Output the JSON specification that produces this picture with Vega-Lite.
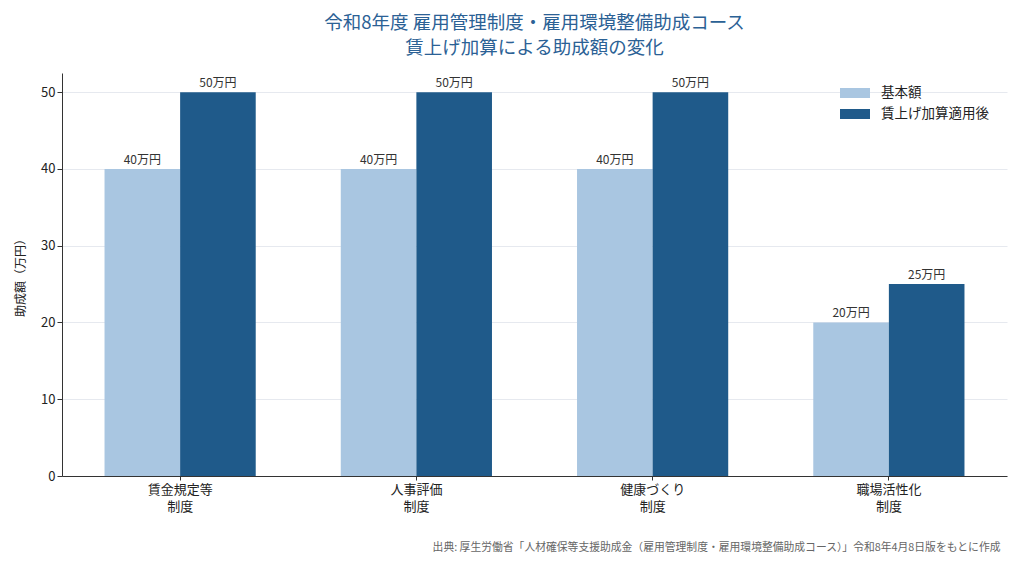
{
  "$schema": "https://vega.github.io/schema/vega-lite/v6.json",
  "autosize": {"type": "none"},
  "padding": {"left": 62, "top": 73, "right": 17, "bottom": 97},
  "width": 945,
  "height": 403,
  "background": "white",
  "config": {
    "font": "Noto Sans CJK JP",
    "view": {"stroke": null}
  },
  "title": {
    "text": ["令和8年度 雇用管理制度・雇用環境整備助成コース", "賃上げ加算による助成額の変化"],
    "fontSize": 18.5,
    "fontWeight": "normal",
    "color": "#2b6195",
    "lineHeight": 25,
    "anchor": "middle",
    "offset": 16
  },
  "data": {
    "values": [
      {"category": "賃金規定等\n制度", "type": "基本額", "value": 40, "label": "40万円"},
      {"category": "賃金規定等\n制度", "type": "賃上げ加算適用後", "value": 50, "label": "50万円"},
      {"category": "人事評価\n制度", "type": "基本額", "value": 40, "label": "40万円"},
      {"category": "人事評価\n制度", "type": "賃上げ加算適用後", "value": 50, "label": "50万円"},
      {"category": "健康づくり\n制度", "type": "基本額", "value": 40, "label": "40万円"},
      {"category": "健康づくり\n制度", "type": "賃上げ加算適用後", "value": 50, "label": "50万円"},
      {"category": "職場活性化\n制度", "type": "基本額", "value": 20, "label": "20万円"},
      {"category": "職場活性化\n制度", "type": "賃上げ加算適用後", "value": 25, "label": "25万円"}
    ]
  },
  "encoding": {
    "x": {
      "field": "category",
      "type": "nominal",
      "sort": null,
      "scale": {"paddingInner": 0.36, "paddingOuter": 0.18},
      "axis": {
        "title": "出典: 厚生労働省「人材確保等支援助成金（雇用管理制度・雇用環境整備助成コース）」令和8年4月8日版をもとに作成",
        "titleFontSize": 10.8,
        "titleFontWeight": "normal",
        "titleColor": "#666666",
        "titleAnchor": "end",
        "titleAlign": "right",
        "titleX": 938,
        "titleY": 65,
        "labelAngle": 0,
        "labelExpr": "split(datum.label, '\\n')",
        "labelFontSize": 13,
        "labelColor": "#222222",
        "labelLineHeight": 17,
        "labelPadding": 3,
        "domainColor": "#333333",
        "tickColor": "#333333",
        "tickSize": 4,
        "grid": false
      }
    },
    "xOffset": {"field": "type", "type": "nominal", "sort": ["基本額", "賃上げ加算適用後"]},
    "y": {
      "field": "value",
      "type": "quantitative",
      "scale": {"domain": [0, 52.5], "nice": false},
      "axis": {
        "title": "助成額（万円）",
        "titleFontSize": 12,
        "titleFontWeight": "normal",
        "titleColor": "#222222",
        "titlePadding": 13,
        "values": [0, 10, 20, 30, 40, 50],
        "labelFontSize": 13,
        "labelColor": "#222222",
        "domainColor": "#333333",
        "tickColor": "#333333",
        "tickSize": 5,
        "gridColor": "#e6e9ef",
        "gridWidth": 1
      }
    }
  },
  "layer": [
    {
      "mark": {"type": "bar"},
      "encoding": {
        "color": {
          "field": "type",
          "type": "nominal",
          "sort": ["基本額", "賃上げ加算適用後"],
          "scale": {"domain": ["基本額", "賃上げ加算適用後"], "range": ["#a9c6e1", "#1f5a8a"]},
          "legend": {
            "title": null,
            "orient": "none",
            "legendX": 783,
            "legendY": 10,
            "symbolType": "M-1.5,-0.5H1.5V0.5H-1.5Z",
            "symbolSize": 400,
            "symbolStrokeWidth": 0,
            "symbolOpacity": 1,
            "labelFontSize": 13.5,
            "labelColor": "#222222",
            "rowPadding": 4,
            "labelOffset": 16
          }
        }
      }
    },
    {
      "mark": {"type": "text", "baseline": "bottom", "dy": -2, "fontSize": 12, "color": "#333333"},
      "encoding": {
        "text": {"field": "label"}
      }
    }
  ]
}
